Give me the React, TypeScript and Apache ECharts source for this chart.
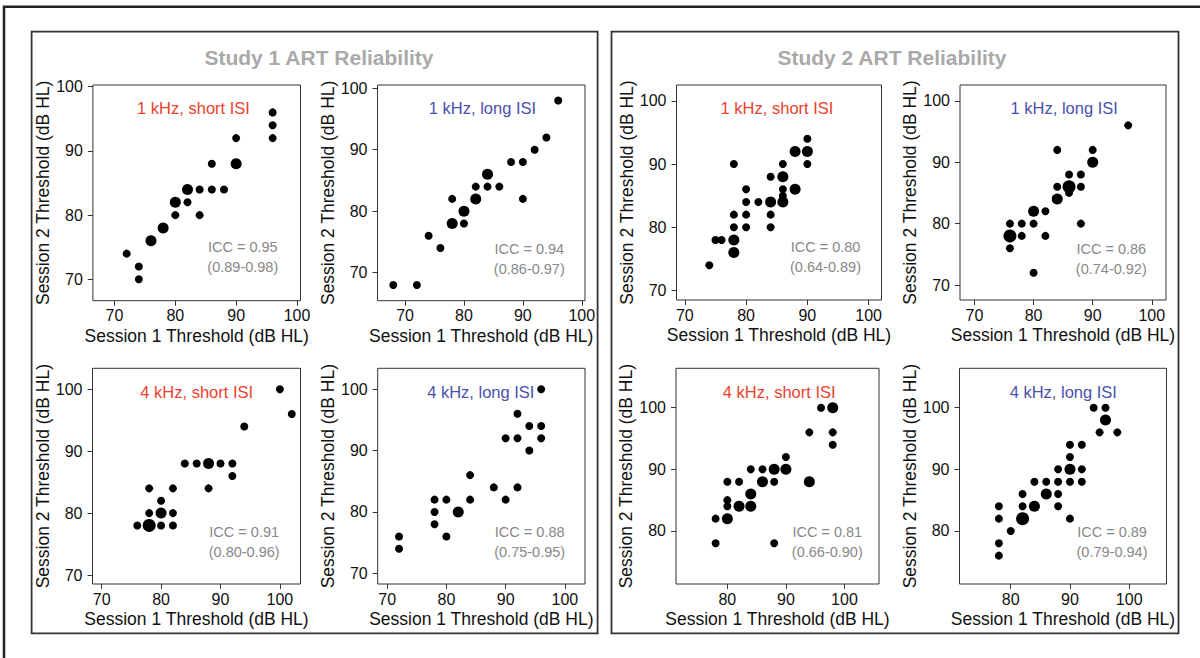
import React, { useEffect, useRef } from "react";
import * as echarts from "echarts";

// ---------- DATA: [session1, session2, count] ----------
const s1k1Short = [[72,74,1],[74,72,1],[74,70,1],[76,76,2],[78,78,2],[80,82,2],[80,80,1],[82,84,2],[82,82,1],[84,84,1],[84,80,1],[86,84,1],[86,88,1],[88,84,1],[90,92,1],[90,88,2],[96,96,1],[96,94,1],[96,92,1]];
const s1k1Long = [[68,68,1],[72,68,1],[74,76,1],[76,74,1],[78,78,2],[78,82,1],[80,80,2],[80,78,1],[82,82,2],[82,84,1],[84,84,1],[84,86,2],[86,84,1],[88,88,1],[90,88,1],[90,82,1],[92,90,1],[94,92,1],[96,98,1]];
const s1k4Short = [[100,100,1],[102,96,1],[94,94,1],[84,88,1],[86,88,1],[88,88,2],[90,88,1],[92,88,1],[92,86,1],[88,84,1],[78,84,1],[82,84,1],[80,82,1],[78,80,1],[80,80,2],[82,80,1],[76,78,1],[78,78,3],[80,78,1],[82,78,1]];
const s1k4Long = [[72,76,1],[72,74,1],[78,82,1],[78,80,1],[78,78,1],[80,82,1],[80,76,1],[82,80,2],[84,86,1],[84,82,1],[88,84,1],[90,82,1],[92,84,1],[90,92,1],[92,92,1],[92,96,1],[94,94,1],[94,90,1],[96,94,1],[96,92,1],[96,100,1]];
const s2k1Short = [[74,74,1],[75,78,1],[76,78,1],[78,78,2],[78,76,2],[78,80,1],[78,82,1],[78,90,1],[80,80,1],[80,82,1],[80,84,1],[80,86,1],[82,84,1],[84,84,2],[84,82,1],[84,80,1],[84,88,1],[86,90,1],[86,88,2],[86,86,1],[86,85,1],[86,84,2],[88,86,2],[88,92,2],[90,92,2],[90,94,1],[90,90,1]];
const s2k1Long = [[96,96,1],[90,92,1],[90,90,2],[84,92,1],[86,88,1],[88,88,1],[84,86,1],[86,86,3],[86,85,1],[88,86,1],[84,84,2],[80,82,2],[82,82,1],[80,80,1],[82,78,1],[88,80,1],[76,80,1],[78,80,1],[76,78,3],[78,78,1],[76,76,1],[80,72,1]];
const s2k4Short = [[96,100,1],[98,100,2],[98,96,1],[98,94,1],[94,96,1],[90,92,1],[90,90,2],[88,90,2],[86,90,1],[84,90,1],[88,88,1],[86,88,2],[94,88,2],[82,88,1],[80,88,1],[84,86,2],[84,84,2],[82,84,2],[80,84,1],[80,85,1],[80,82,2],[78,82,1],[78,78,1],[88,78,1]];
const s2k4Long = [[94,100,1],[96,100,1],[96,98,2],[95,96,1],[98,96,1],[90,94,1],[92,94,1],[90,92,1],[88,90,1],[90,90,2],[92,90,1],[84,88,1],[86,88,1],[88,88,1],[90,88,1],[92,88,1],[82,86,1],[86,86,2],[88,86,1],[84,84,2],[82,84,1],[88,84,1],[78,84,1],[78,82,1],[82,82,3],[90,82,1],[80,80,1],[78,78,1],[78,76,1]];

const panelData = [s1k1Short, s1k1Long, s1k4Short, s1k4Long, s2k1Short, s2k1Long, s2k4Short, s2k4Long];
const panelNames = ["1 kHz, short ISI", "1 kHz, long ISI", "4 kHz, short ISI", "4 kHz, long ISI", "1 kHz, short ISI", "1 kHz, long ISI", "4 kHz, short ISI", "4 kHz, long ISI"];
const iccValues = ["ICC = 0.95", "ICC = 0.94", "ICC = 0.91", "ICC = 0.88", "ICC = 0.80", "ICC = 0.86", "ICC = 0.81", "ICC = 0.89"];
const iccRanges = ["(0.89-0.98)", "(0.86-0.97)", "(0.80-0.96)", "(0.75-0.95)", "(0.64-0.89)", "(0.74-0.92)", "(0.66-0.90)", "(0.79-0.94)"];
const ticksA = [70, 80, 90, 100];
const ticksB = [80, 90, 100];
const studyTitles = ["Study 1 ART Reliability", "Study 2 ART Reliability"];
const xTitle = "Session 1 Threshold (dB HL)";
const yTitle = "Session 2 Threshold (dB HL)";

// ---------- LAYOUT ----------
const FONT = '"Liberation Sans", Arial, Helvetica, sans-serif';
const RED = "#ee3f2e";
const BLUE = "#4a50ad";
const layout = [
  { l: 92.9, r: 300.5, t: 85, b: 300.7, x: [66.45, 100.58], y: [66.67, 100.27], lab: [193.5, 108.3], icc: [242.8, 257], ticks: ticksA, col: RED },
  { l: 377.5, r: 585, t: 85, b: 300.7, x: [65.32, 100.55], y: [65.44, 100.53], lab: [482.5, 108.3], icc: [529.3, 258.8], ticks: ticksA, col: BLUE },
  { l: 92.5, r: 300.5, t: 368.3, b: 584, x: [68.46, 103.47], y: [68.55, 103.39], lab: [196.7, 391.7], icc: [244.2, 542], ticks: ticksA, col: RED },
  { l: 377.7, r: 585, t: 368.3, b: 584, x: [68.4, 103.4], y: [68.26, 103.4], lab: [480.8, 391.7], icc: [529.7, 542], ticks: ticksA, col: BLUE },
  { l: 676.5, r: 881.5, t: 85, b: 300, x: [68.64, 102.1], y: [68.5, 102.5], lab: [777, 108.3], icc: [825.5, 257], ticks: ticksA, col: RED },
  { l: 960, r: 1166, t: 85, b: 300, x: [67.55, 102.4], y: [67.56, 102.57], lab: [1064.2, 108.3], icc: [1111.3, 258.8], ticks: ticksA, col: BLUE },
  { l: 676, r: 879, t: 368.3, b: 584, x: [71.23, 105.9], y: [71.4, 106.39], lab: [779.2, 391.7], icc: [827.3, 542.2], ticks: ticksB, col: RED },
  { l: 959.5, r: 1166.5, t: 368.3, b: 584, x: [71.35, 106.3], y: [71.4, 106.39], lab: [1063.3, 391.7], icc: [1112, 542.2], ticks: ticksB, col: BLUE },
];
const sizeFor = (n: number) => (n >= 3 ? 13 : n === 2 ? 11 : 8);

function text(x: number, y: number, t: string, size: number, color: string, weight = "normal", lineHeight?: number) {
  return {
    type: "text",
    x,
    y,
    silent: true,
    style: {
      text: t,
      fontSize: size,
      fontFamily: FONT,
      fontWeight: weight,
      fill: color,
      textAlign: "center",
      textVerticalAlign: "middle",
      align: "center",
      verticalAlign: "middle",
      lineHeight: lineHeight,
    },
  };
}

export default function App() {
  const ref = useRef<HTMLDivElement>(null);
  useEffect(() => {
    if (!ref.current) return;
    const chart = echarts.init(ref.current, undefined, { renderer: "svg" });
    const grid = layout.map((p) => ({
      left: p.l,
      top: p.t,
      width: p.r - p.l,
      height: p.b - p.t,
      show: true,
      borderColor: "#333",
      borderWidth: 1,
      backgroundColor: "#fff",
      containLabel: false,
      outerBoundsMode: "none",
    }));
    const axisCommon = (p: any) => ({
      type: "value",
      axisLine: { show: false, onZero: false },
      splitLine: { show: false },
      axisTick: { show: true, inside: false, length: 5, lineStyle: { color: "#333", width: 1 }, customValues: p.ticks },
      axisLabel: { customValues: p.ticks, fontSize: 16, color: "#111", fontFamily: FONT },
      nameLocation: "middle",
      nameTextStyle: { fontSize: 17.5, color: "#111", fontFamily: FONT },
    });
    const xAxis = layout.map((p, i) => {
      const c: any = axisCommon(p);
      return { ...c, gridIndex: i, min: p.x[0], max: p.x[1], name: xTitle, nameGap: 26, axisLabel: { ...c.axisLabel, margin: 7 } };
    });
    const yAxis = layout.map((p, i) => {
      const c: any = axisCommon(p);
      return { ...c, gridIndex: i, min: p.y[0], max: p.y[1], name: yTitle, nameGap: 38, nameRotate: 90, axisLabel: { ...c.axisLabel, margin: 10 } };
    });
    const series = panelData.map((d, i) => ({
      type: "scatter",
      xAxisIndex: i,
      yAxisIndex: i,
      data: d,
      symbol: "circle",
      symbolSize: (v: number[]) => sizeFor(v[2]),
      itemStyle: { color: "#000", opacity: 1 },
      emphasis: { disabled: true },
      z: 3,
    }));
    const graphic: any[] = [
      { type: "polyline", silent: true, shape: { points: [[4, 658], [4, 6.7], [1200, 6.7]] }, style: { stroke: "#222", lineWidth: 2.5, fill: null } },
      { type: "rect", silent: true, shape: { x: 31.6, y: 31.7, width: 566, height: 601.6 }, style: { stroke: "#333", lineWidth: 1.8, fill: null } },
      { type: "rect", silent: true, shape: { x: 611.5, y: 31.7, width: 567, height: 601.6 }, style: { stroke: "#333", lineWidth: 1.8, fill: null } },
      text(319, 57.3, studyTitles[0], 21, "#a9a9a9", "bold"),
      text(892, 57.3, studyTitles[1], 21, "#a9a9a9", "bold"),
    ];
    layout.forEach((p, i) => {
      graphic.push(text(p.lab[0], p.lab[1], panelNames[i], 16.5, p.col));
      graphic.push(text(p.icc[0], p.icc[1], iccValues[i] + "\n" + iccRanges[i], 14.5, "#888", "normal", 20.6));
    });
    chart.setOption({
      animation: false,
      backgroundColor: "#fff",
      grid,
      xAxis,
      yAxis,
      series,
      graphic: { elements: graphic.map((g) => ({ ...g, z: 10 })) },
    });
    return () => chart.dispose();
  }, []);
  return <div ref={ref} style={{ position: "absolute", left: 0, top: 0, width: 1200, height: 658 }} />;
}
